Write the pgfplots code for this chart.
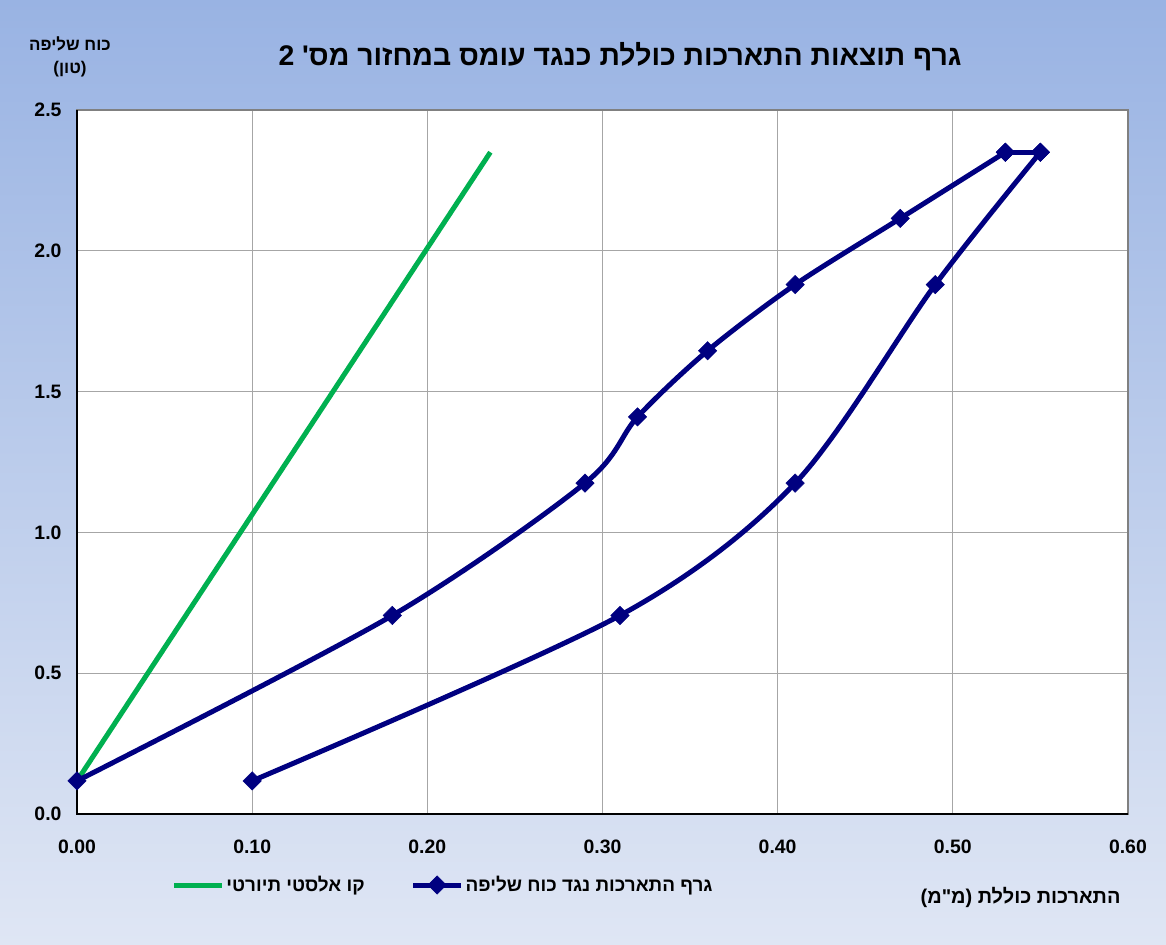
\documentclass[border=0pt]{standalone}
\usepackage{fontspec}
\setmainfont{Liberation Sans}
\newfontfamily\hebfont[Script=Hebrew]{Liberation Sans}
\usepackage{pgfplots}
\pgfplotsset{compat=1.18}
\TeXXeTstate=1
\newcommand{\heb}[1]{{\hebfont\beginR #1\endR}}
\definecolor{navyline}{HTML}{000080}
\definecolor{elastic}{HTML}{00B050}
\definecolor{bgtop}{HTML}{99B3E3}
\definecolor{bgbot}{HTML}{DFE6F4}

\begin{document}
\begin{tikzpicture}
% chart area background
\shade[top color=bgtop, bottom color=bgbot] (-77bp,-131bp) rectangle (1089bp,814bp);
\path[use as bounding box] (-77bp,-131bp) rectangle (1089bp,814bp);

\begin{axis}[
  at={(0bp,0bp)}, anchor=south west,
  scale only axis, width=1051bp, height=704bp,
  xmin=0, xmax=0.6, ymin=0, ymax=2.5,
  xtick={0,0.1,...,0.6}, ytick={0,0.5,...,2.5},
  /pgf/number format/assume math mode=true,
  xticklabel style={/pgf/number format/fixed, /pgf/number format/fixed zerofill,
    /pgf/number format/precision=2, yshift=-22bp},
  yticklabel style={/pgf/number format/fixed, /pgf/number format/fixed zerofill,
    /pgf/number format/precision=1, xshift=-12bp},
  ticklabel style={font=\fontsize{19.5}{22}\selectfont\bfseries},
  major tick length=0pt,
  grid=major,
  major grid style={draw=black!35, line width=0.8bp},
  axis line style={draw=black!50, line width=2bp},
  axis background/.style={fill=white},
  clip=false,
  legend columns=2,
  legend style={draw=none, fill=none, at={(366bp,-71bp)}, anchor=center,
    font=\fontsize{19}{22}\selectfont\bfseries,
    /tikz/every even column/.append style={column sep=44bp}},
  legend image code/.code={\draw[mark repeat=2,mark phase=2,#1]
    plot coordinates {(0bp,0bp) (24bp,0bp) (48bp,0bp)};},
]
% plot area frame: left and bottom black
\draw[black, line width=1.5bp] (rel axis cs:0,1) -- (rel axis cs:0,0) -- (rel axis cs:1,0);

\addplot[elastic, line width=5bp, no marks] coordinates {
  (0,0.1175) (0.236,2.35)
};
\addlegendentry{\heb{קו אלסטי תיורטי}}

% loading branch, peak, unloading branch (one series, corners kept sharp)
\pgfplotsset{loadcurve/.style={navyline, line width=5bp, mark=square*,
  mark size=6.5bp, mark options={rotate=45, line width=0.5bp}}}
\addplot[loadcurve, smooth] coordinates {
  (0,0.1175) (0.18,0.705) (0.29,1.175) (0.32,1.41) (0.36,1.645)
  (0.41,1.88) (0.47,2.115) (0.53,2.35)
};
\addlegendentry{\heb{גרף התארכות נגד כוח שליפה}}
\addplot[loadcurve, forget plot] coordinates {
  (0.53,2.35) (0.55,2.35)
};
\addplot[loadcurve, smooth, forget plot] coordinates {
  (0.55,2.35) (0.49,1.88) (0.41,1.175) (0.31,0.705) (0.10,0.1175)
};
\end{axis}

\node[font=\fontsize{28.5}{34}\selectfont\bfseries] at (543bp,757bp)
  {\heb{גרף תוצאות התארכות כוללת כנגד עומס במחזור מס' 2}};
\node[font=\fontsize{17}{23}\selectfont\bfseries, align=center] at (-7bp,757bp)
  {\heb{כוח שליפה}\\\heb{(טון)}};
\node[font=\fontsize{20}{24}\selectfont\bfseries, anchor=east] at (1047bp,-83bp)
  {\heb{התארכות כוללת (מ"מ)}};
\end{tikzpicture}
\end{document}
